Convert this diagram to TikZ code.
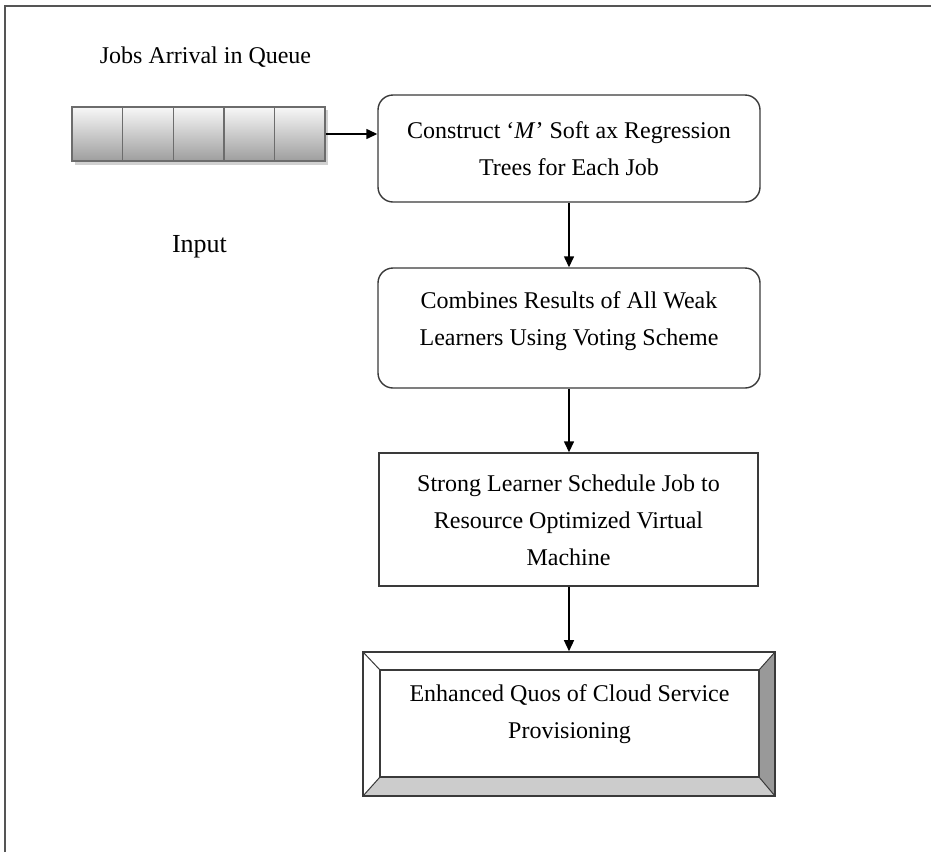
\documentclass[tikz,border=0pt]{standalone}
\usepackage{fontspec}
\setmainfont{Liberation Serif}
\usetikzlibrary{arrows.meta,shadows}
\definecolor{frameg}{HTML}{555555}
\definecolor{boxg}{HTML}{3A3A3A}
\tikzset{
  txt/.style={font=\fontsize{24}{37}\selectfont, align=center, inner sep=0pt},
  rbox/.style={draw=boxg, line width=1.4pt, rounded corners=15pt, fill=white},
  sbox/.style={draw=boxg, line width=1.4pt, fill=white},
  qcell/.style={draw=gray!85!black, line width=1.4pt, minimum width=50.6pt, minimum height=54pt,
     inner sep=0pt, top color=white!97!black, bottom color=black!38},
  flow/.style={-{Triangle[length=11pt,width=10pt]}, line width=1.4pt, black},
}
\begin{document}
\begin{tikzpicture}[x=1pt,y=-1pt]
\useasboundingbox (0,0) rectangle (931,852);
% frame
\draw[frameg, line width=2pt] (5,852) -- (5,6) -- (931,6);
% titles
\node[txt] (title) at (205.5,57) {Jobs Arrival in Queue};
\node[txt, font=\fontsize{26}{30}\selectfont] (input) at (199.5,247) {Input};
% queue
\fill[black!18] (75,110) rectangle (328,165);
\foreach \i in {1,...,5}{
  \node[qcell] (q\i) at ({72+50.6*(\i-0.5)},134) {};
}
% boxes
\node[rbox, minimum width=382pt, minimum height=107pt] (b1) at (569,148.5) {};
\node[txt] (t1) at (569,149) {Construct `\textit{M}' Soft ax Regression\\Trees for Each Job};
\node[rbox, minimum width=382pt, minimum height=120pt] (b2) at (569,328) {};
\node[txt] (t2) at (569,321.5) {Combines Results of All Weak\\Learners Using Voting Scheme};
\node[sbox, minimum width=379pt, minimum height=133pt] (b3) at (568.5,519.5) {};
\node[txt] (t3) at (568.5,520) {Strong Learner Schedule Job to\\Resource Optimized Virtual\\Machine};
% bevel box
\coordinate (o1) at (363,652); \coordinate (o2) at (775,652);
\coordinate (o3) at (775,796); \coordinate (o4) at (363,796);
\coordinate (i1) at (380,670); \coordinate (i2) at (759,670);
\coordinate (i3) at (759,777); \coordinate (i4) at (380,777);
\fill[white] (o1) -- (o2) -- (i2) -- (i1) -- cycle;
\fill[white] (o1) -- (i1) -- (i4) -- (o4) -- cycle;
\fill[black!40] (o2) -- (o3) -- (i3) -- (i2) -- cycle;
\fill[black!20] (o4) -- (i4) -- (i3) -- (o3) -- cycle;
\draw[boxg, line width=1pt] (o1) -- (i1) (o2) -- (i2) (o3) -- (i3) (o4) -- (i4);
\node[sbox, minimum width=379pt, minimum height=107pt] (b4) at (569.5,723.5) {};
\node[draw=boxg, line width=1.6pt, minimum width=412pt, minimum height=144pt, inner sep=0pt] (b4o) at (569,724) {};
\node[txt] (t4) at (569.5,714) {Enhanced Quos of Cloud Service\\Provisioning};
% connectors
\draw[flow] (q5.east) -- (b1.west |- q5.east);
\draw[flow] (b1.south -| t1) -- (b2.north -| t1);
\draw[flow] (b2.south -| t1) -- (b3.north -| t1);
\draw[flow] (b3.south -| t1) -- (b4o.north -| t1);
\end{tikzpicture}
\end{document}
